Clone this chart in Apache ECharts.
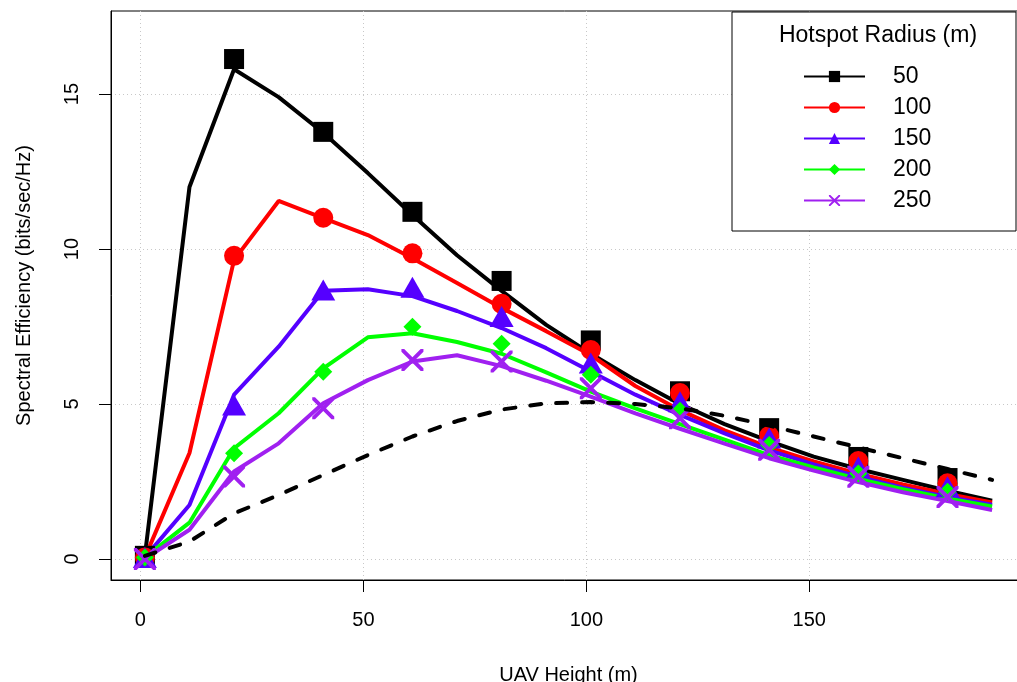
<!DOCTYPE html>
<html>
<head>
<meta charset="utf-8">
<script src="https://cdn.jsdelivr.net/npm/echarts@6/dist/echarts.min.js"></script>
<style>
html,body{margin:0;padding:0;background:#fff;}
#chart{width:1017px;height:682px;}
</style>
</head>
<body>
<div id="chart"></div>
<script>
// UAV heights for the curves (every 10 m) and for the simulated markers (every 20 m)
var lineHeights = [1, 11, 21, 31, 41, 51, 61, 71, 81, 91, 101, 111, 121, 131, 141, 151, 161, 171, 181, 191];
var markerHeights = [1, 21, 41, 61, 81, 101, 121, 141, 161, 181];

// Analytical curves (spectral efficiency, bits/sec/Hz)
var line50  = [0.10, 12.0, 15.8, 14.9, 13.75, 12.45, 11.1, 9.8, 8.65, 7.55, 6.62, 5.77, 5.0, 4.35, 3.8, 3.3, 2.9, 2.55, 2.2, 1.88];
var line100 = [0.05, 3.42, 9.65, 11.55, 11.0, 10.45, 9.7, 8.9, 8.1, 7.35, 6.58, 5.58, 4.8, 4.15, 3.6, 3.15, 2.75, 2.4, 2.1, 1.82];
var line150 = [0.05, 1.74, 5.3, 6.85, 8.65, 8.7, 8.48, 8.0, 7.45, 6.8, 6.05, 5.3, 4.65, 4.05, 3.5, 3.05, 2.65, 2.3, 2.0, 1.75];
var line200 = [0.05, 1.17, 3.57, 4.7, 6.15, 7.15, 7.28, 7.0, 6.62, 6.02, 5.4, 4.86, 4.35, 3.85, 3.35, 2.95, 2.58, 2.25, 1.95, 1.69];
var line250 = [0.0, 0.94, 2.82, 3.73, 5.02, 5.77, 6.37, 6.57, 6.22, 5.75, 5.24, 4.7, 4.2, 3.72, 3.25, 2.85, 2.48, 2.15, 1.87, 1.58];
var lineDashed = [0.10, 0.56, 1.47, 2.06, 2.71, 3.35, 3.95, 4.45, 4.82, 5.02, 5.06, 5.0, 4.86, 4.62, 4.3, 3.95, 3.6, 3.25, 2.9, 2.55];

// Simulated points
var pts50  = [0.10, 16.13, 13.78, 11.2, 8.97, 7.05, 5.41, 4.22, 3.29, 2.61];
var pts100 = [0.05, 9.78, 11.01, 9.86, 8.23, 6.74, 5.35, 3.97, 3.16, 2.44];
var pts150 = [0.05, 4.97, 8.68, 8.77, 7.82, 6.32, 5.07, 3.9, 2.97, 2.33];
var pts200 = [0.05, 3.41, 6.04, 7.49, 6.94, 5.94, 4.78, 3.68, 2.76, 2.17];
var pts250 = [0.0, 2.66, 4.86, 6.42, 6.37, 5.51, 4.54, 3.52, 2.65, 2.0];

var radiusNames = ['50', '100', '150', '200', '250'];
var xTicks = [0, 50, 100, 150];
var yTicks = [0, 5, 10, 15];

var colors = ['#000000', '#FF0000', '#5500FF', '#00FF00', '#A020F0'];
var crossPath = 'path://M0,0L3,0L12,9L21,0L24,0L24,3L15,12L24,21L24,24L21,24L12,15L3,24L0,24L0,21L9,12L0,3Z';
var symbols = ['rect', 'circle', 'triangle', 'diamond', crossPath];
var symbolSizes = [20, 20, [24, 21], 18, 22];

function pairs(xs, ys) { return xs.map(function (x, i) { return [x, ys[i]]; }); }

var lines = [line50, line100, line150, line200, line250];
var pts = [pts50, pts100, pts150, pts200, pts250];

var series = [];
for (var i = 0; i < 5; i++) {
  series.push({
    name: radiusNames[i], type: 'line', data: pairs(lineHeights, lines[i]),
    symbol: symbols[i], showSymbol: false, symbolSize: 14,
    color: colors[i], itemStyle: { color: colors[i] },
    lineStyle: { color: colors[i], width: 4 },
    emphasis: { disabled: true }, silent: true, z: 2
  });
  series.push({
    name: 'pts' + radiusNames[i], type: 'scatter', data: pairs(markerHeights, pts[i]),
    symbol: symbols[i], symbolSize: symbolSizes[i],
    itemStyle: { color: colors[i], opacity: 1 },
    emphasis: { disabled: true }, silent: true, z: 3
  });
}
series.push({
  name: 'reference', type: 'line', data: pairs(lineHeights, lineDashed),
  showSymbol: false, symbol: 'none',
  lineStyle: { color: '#000', width: 4, type: [11, 15], cap: 'round' },
  emphasis: { disabled: true }, silent: true, z: 4
});

var font = 'Liberation Sans, Arial, Helvetica, sans-serif';

var option = {
  animation: false,
  backgroundColor: '#fff',
  textStyle: { fontFamily: font },
  grid: { left: 111, top: 11, right: -9, bottom: 102, outerBoundsMode: 'none', containLabel: false, show: true, borderColor: '#000', borderWidth: 1, backgroundColor: 'transparent' },
  xAxis: {
    type: 'value', min: -6.6, max: 198.6,
    name: 'UAV Height (m)', nameLocation: 'middle', nameGap: 85,
    nameTextStyle: { fontSize: 20, color: '#000', fontFamily: font },
    axisLine: { show: true, onZero: false, lineStyle: { color: '#000', width: 1 } },
    axisTick: { show: true, length: 12, customValues: xTicks, lineStyle: { color: '#000' } },
    axisLabel: { customValues: xTicks, fontSize: 20, color: '#000', margin: 30, fontFamily: font },
    splitLine: { show: true, lineStyle: { color: '#C8C8C8', type: [1, 3], width: 1 } }
  },
  yAxis: {
    type: 'value', min: -0.68, max: 17.68,
    name: 'Spectral Efficiency (bits/sec/Hz)', nameLocation: 'middle', nameGap: 77, nameRotate: 90,
    nameTextStyle: { fontSize: 20, color: '#000', fontFamily: font, padding: [0, 0, 0, 20] },
    axisLine: { show: true, onZero: false, lineStyle: { color: '#000', width: 1 } },
    axisTick: { show: true, length: 12, customValues: yTicks, lineStyle: { color: '#000' } },
    axisLabel: { customValues: yTicks, fontSize: 20, color: '#000', margin: 29, rotate: 90, fontFamily: font },
    splitLine: { show: true, lineStyle: { color: '#C8C8C8', type: [1, 3], width: 1 } }
  },
  legend: {
    data: radiusNames, orient: 'vertical', left: 803, top: 65, padding: 0,
    itemWidth: 61, itemHeight: 14, itemGap: 8, z: 11,
    selectedMode: false,
    textStyle: { fontSize: 23, color: '#000', fontFamily: font, padding: [0, 0, 0, 23] }
  },
  graphic: [
    { type: 'rect', z: 10, shape: { x: 732, y: 12, width: 284, height: 219 }, style: { fill: '#fff', stroke: '#000', lineWidth: 1 } },
    { type: 'text', z: 12, x: 878, y: 36, style: { text: 'Hotspot Radius (m)', fontSize: 23, fill: '#000', fontFamily: font, textAlign: 'center', textVerticalAlign: 'middle' } }
  ],
  series: series
};

var chart = echarts.init(document.getElementById('chart'), null, { renderer: 'canvas' });
chart.setOption(option);
</script>
</body>
</html>
